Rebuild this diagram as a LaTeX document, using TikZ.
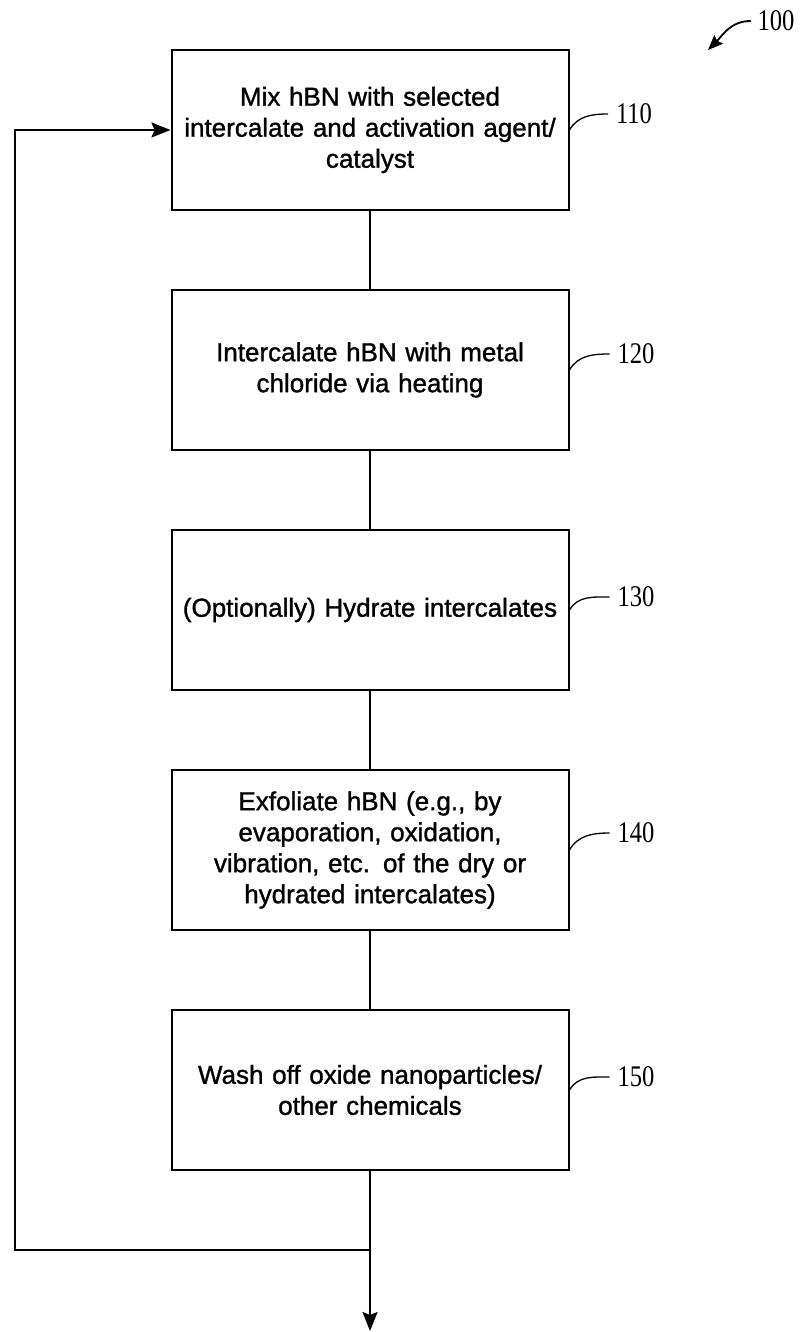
\documentclass[tikz,border=0pt]{standalone}
\usepackage{fontspec}
\setmainfont[FakeBold=1.2]{Liberation Sans}
\newfontfamily\numfont{Liberation Serif}
\usetikzlibrary{arrows.meta}

\tikzset{
  stepbox/.style={draw, line width=2pt, minimum width=397pt, minimum height=160pt,
    text width=390pt, align=center, inner sep=0pt, font=\fontsize{26}{31}\selectfont},
  reflabel/.style={inner sep=0pt, xscale=0.82, font=\numfont\fontsize{30}{30}\selectfont},
  leader/.style={line width=1.3pt}
}

\begin{document}
\begin{tikzpicture}[x=1pt,y=-1pt,line width=2pt,>={Stealth[length=19pt,width=15pt,inset=3pt]}]

\useasboundingbox (0,0) rectangle (800,1332);

\node[stepbox] (s110) at (370,130) {Mix hBN with selected\\intercalate and activation agent/\\catalyst};

\node[stepbox] (s120) at (370,370) {Intercalate hBN with metal\\chloride via heating};

\node[stepbox] (s130) at (370,610) {(Optionally) Hydrate intercalates};

\node[stepbox] (s140) at (370,850) {Exfoliate hBN (e.g., by\\evaporation, oxidation,\\vibration, etc. of the dry or\\hydrated intercalates)};

\node[stepbox] (s150) at (370,1090) {Wash off oxide nanoparticles/\\other chemicals};

\node[reflabel] (r100) at (776,21) {100};
\node[reflabel] (r110) at (634,114) {110};
\node[reflabel] (r120) at (636,354) {120};
\node[reflabel] (r130) at (636,597) {130};
\node[reflabel] (r140) at (636,833) {140};
\node[reflabel] (r150) at (636,1077) {150};

\coordinate (tip100) at (708,50);
\coordinate (back) at (15,1250);
\coordinate (out) at (370,1331);

\draw (s110) -- (s120);
\draw (s120) -- (s130);
\draw (s130) -- (s140);
\draw (s140) -- (s150);
\draw[->] (s150) -- (out);
\draw[->] (s150.south |- back) -- (back) |- (s110.west);

\draw[leader] (s110.east) to[out=60,in=180] ([xshift=-7pt]r110.west);
\draw[leader] (s120.east) to[out=60,in=180] ([xshift=-7pt]r120.west);
\draw[leader] (s130.east) to[out=60,in=180] ([xshift=-7pt]r130.west);
\draw[leader] (s140.east) to[out=60,in=180] ([xshift=-7pt]r140.west);
\draw[leader] (s150.east) to[out=60,in=180] ([xshift=-7pt]r150.west);
\draw[leader,line width=1.8pt,->,>={Stealth[length=15pt,width=12pt,inset=2pt]}] ([xshift=-6pt]r100.west) to[out=180,in=45] (tip100);

\end{tikzpicture}
\end{document}
